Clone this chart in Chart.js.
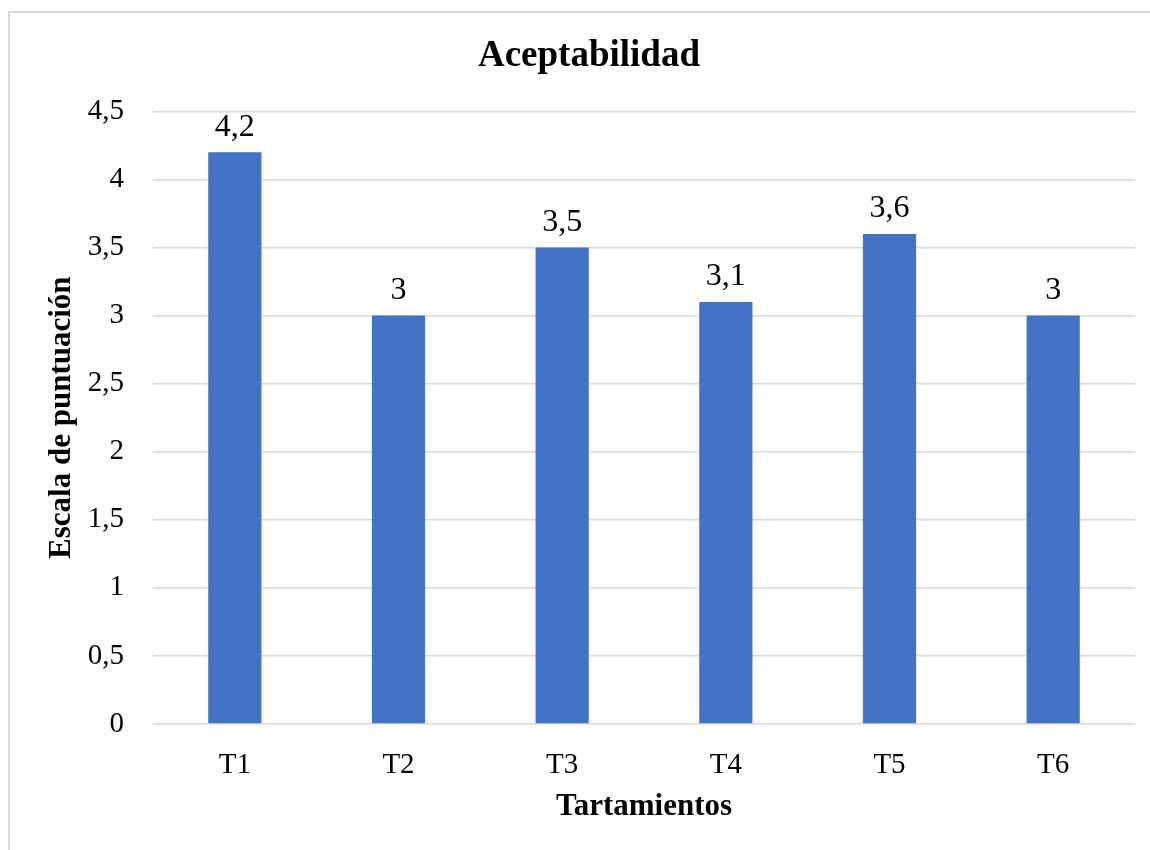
<!DOCTYPE html>
<html>
<head>
<meta charset="utf-8">
<script src="https://cdn.jsdelivr.net/npm/chart.js@4"></script>
<style>
  html, body { margin: 0; padding: 0; background: #ffffff; }
  #wrap { width: 1150px; height: 850px; position: relative; }
</style>
</head>
<body>
<div id="wrap"><canvas id="chart" width="1150" height="850"></canvas></div>
<script>
// data
const categories = ['T1', 'T2', 'T3', 'T4', 'T5', 'T6'];
const scores = [4.2, 3, 3.5, 3.1, 3.6, 3];
const yTicks = [0, 0.5, 1, 1.5, 2, 2.5, 3, 3.5, 4, 4.5];

const FONT = "'Liberation Serif', 'Times New Roman', serif";

function commaNum(v) {
  return String(v).replace('.', ',');
}

// light frame round the whole chart, like the Excel chart area
const framePlugin = {
  id: 'frame',
  beforeDraw(chart) {
    const ctx = chart.ctx;
    ctx.save();
    ctx.fillStyle = '#ffffff';
    ctx.fillRect(0, 0, chart.width, chart.height);
    ctx.strokeStyle = '#d9d9d9';
    ctx.lineWidth = 2;
    ctx.strokeRect(9, 12, chart.width, chart.height);
    ctx.restore();
  }
};

// value labels above each bar
const labelPlugin = {
  id: 'barLabels',
  afterDatasetsDraw(chart) {
    const ctx = chart.ctx;
    const meta = chart.getDatasetMeta(0);
    ctx.save();
    ctx.font = '32px ' + FONT;
    ctx.fillStyle = '#000000';
    ctx.textAlign = 'center';
    ctx.textBaseline = 'bottom';
    meta.data.forEach(function(bar, i) {
      ctx.fillText(commaNum(scores[i]), bar.x, bar.y - 9);
    });
    ctx.restore();
  }
};

const ctx = document.getElementById('chart').getContext('2d');
new Chart(ctx, {
  type: 'bar',
  data: {
    labels: categories,
    datasets: [{
      label: 'Aceptabilidad',
      data: scores,
      backgroundColor: '#4472c4',
      borderWidth: 0,
      categoryPercentage: 1,
      barPercentage: 0.325
    }]
  },
  options: {
    responsive: false,
    animation: false,
    layout: { padding: { left: 43, right: 15, top: 18, bottom: 24 } },
    plugins: {
      legend: { display: false },
      tooltip: { enabled: false },
      title: {
        display: true,
        text: 'Aceptabilidad',
        color: '#000000',
        font: { family: FONT, size: 37, weight: 'bold' },
        padding: { top: 16, bottom: 33 }
      }
    },
    scales: {
      x: {
        afterFit(axis) {
          axis.height = 102;
        },
        grid: { display: false, drawTicks: false },
        border: { display: false },
        ticks: {
          color: '#000000',
          font: { family: FONT, size: 29 },
          padding: 24
        },
        title: {
          display: true,
          text: 'Tartamientos',
          color: '#000000',
          font: { family: FONT, size: 31, weight: 'bold' },
          padding: { top: 0, bottom: 0 }
        }
      },
      y: {
        min: 0,
        max: 4.5,
        afterBuildTicks(axis) {
          axis.ticks = yTicks.map(function(v) { return { value: v }; });
        },
        afterFit(axis) {
          axis.width = 153 - 43;
        },
        grid: { color: '#d9d9d9', lineWidth: 1.5, drawTicks: false },
        border: { display: false },
        ticks: {
          color: '#000000',
          font: { family: FONT, size: 29 },
          padding: 29,
          callback: function(v) { return commaNum(v); }
        },
        title: {
          display: true,
          text: 'Escala de puntuación',
          color: '#000000',
          font: { family: FONT, size: 31, weight: 'bold' },
          padding: { top: 0, bottom: 0 }
        }
      }
    }
  },
  plugins: [framePlugin, labelPlugin]
});
</script>
</body>
</html>
